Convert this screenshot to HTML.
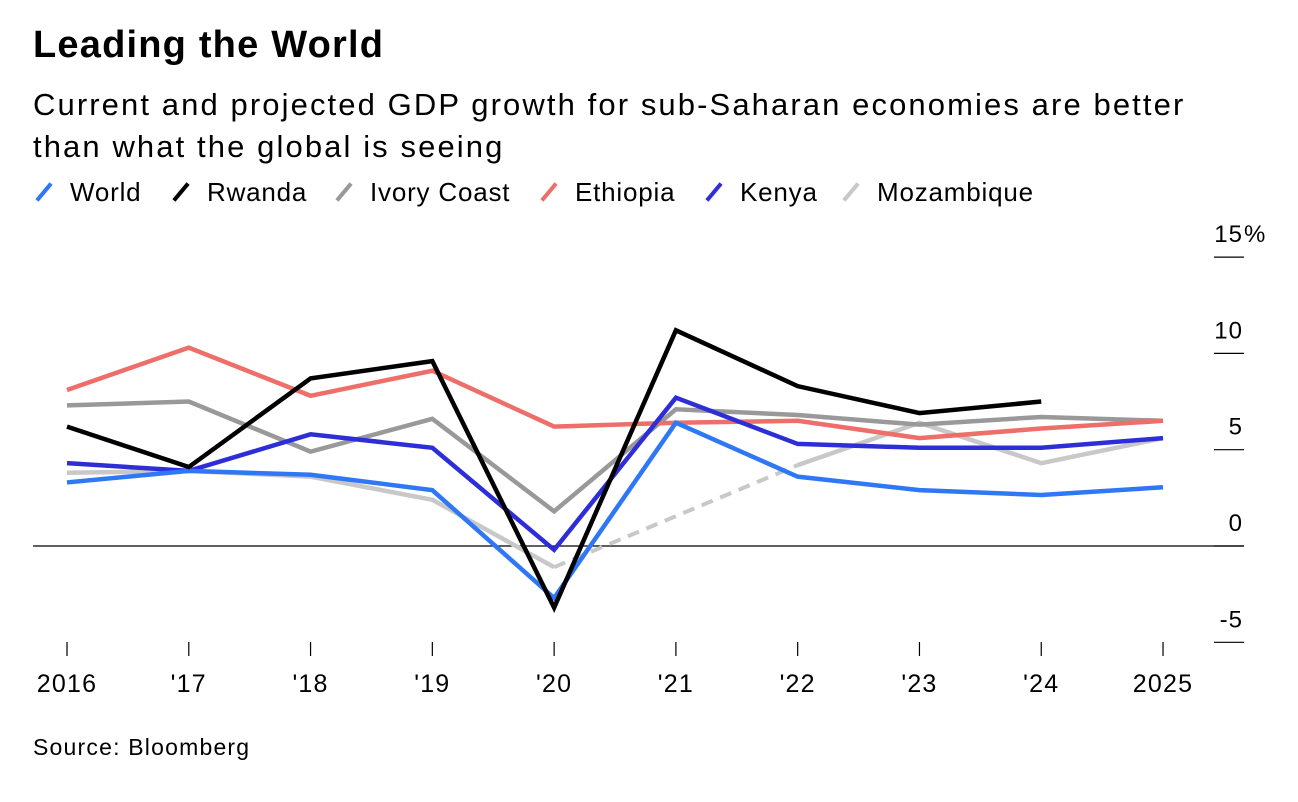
<!DOCTYPE html>
<html><head><meta charset="utf-8"><style>
body{margin:0;background:#fff;width:1298px;height:802px;overflow:hidden;font-family:"Liberation Sans",sans-serif;color:#000}
#title{position:absolute;left:33px;top:24px;font-size:38px;font-weight:bold;letter-spacing:1.2px}
#sub{position:absolute;left:33px;top:84px;font-size:31px;line-height:42px;width:1200px;letter-spacing:2.1px}
#legend{position:absolute;left:0;top:177px;font-size:26px;letter-spacing:0.8px;width:1298px;height:36px}
.le{position:absolute;display:flex;align-items:center;white-space:nowrap}
.sw{width:4px;height:22px;transform:rotate(40deg);position:absolute;top:4px}
.lt{position:absolute;top:0}
#src{position:absolute;left:33px;top:734px;font-size:23px;letter-spacing:1.2px}
svg{position:absolute;left:0;top:0}
</style></head><body>
<div id="title">Leading the World</div>
<div id="sub">Current and projected GDP growth for sub-Saharan economies are better<br>than what the global is seeing</div>
<div id="legend"></div>
<div id="src">Source: Bloomberg</div>
<svg id="chart" width="1298" height="802"></svg>
<script>
const years=["2016","'17","'18","'19","'20","'21","'22","'23","'24","2025"];
const yTicks=[15,10,5,0,-5];
const seriesNames=["World","Rwanda","Ivory Coast","Ethiopia","Kenya","Mozambique"];
const seriesColors=["#2f78f5","#000000","#999999","#ee6e6a","#2e2ed8","#c8c8c8"];
const world=[3.3,3.9,3.7,2.9,-2.7,6.4,3.6,2.9,2.65,3.05];
const rwanda=[6.2,4.1,8.7,9.6,-3.2,11.2,8.3,6.9,7.5,null];
const ivoryCoast=[7.3,7.5,4.9,6.6,1.8,7.1,6.8,6.3,6.7,6.5];
const ethiopia=[8.1,10.3,7.8,9.1,6.2,6.4,6.5,5.6,6.1,6.5];
const kenya=[4.3,3.9,5.8,5.1,-0.2,7.7,5.3,5.1,5.1,5.6];
const mozambique=[3.8,3.9,3.6,2.4,-1.1,null,4.2,6.4,4.3,5.6];
const data=[world,rwanda,ivoryCoast,ethiopia,kenya,mozambique];
const legendX=[33,170,333,538,703,840];
const NS="http://www.w3.org/2000/svg";
const svg=document.getElementById('chart');
const x=i=>67+i*121.78;
const y=v=>546-v*19.26;
function mk(t,a){const e=document.createElementNS(NS,t);for(const k in a)e.setAttribute(k,a[k]);svg.appendChild(e);return e;}
yTicks.forEach(v=>{
 const l=mk('line',{x1:1214,x2:1244,y1:y(v),y2:y(v),stroke:'#000','stroke-width':1.2});
 
 
 const t=mk('text',{x:1243,y:y(v)-15,'text-anchor':'end','font-size':24,'letter-spacing':1,'font-family':'Liberation Sans'});
 t.textContent=v;
 
 
 if(v===15){
  const p=mk('text',{x:1244,y:y(v)-15,'font-size':24,'font-family':'Liberation Sans'});
  p.textContent='%';
  
  
 }
});
const zl=mk('line',{x1:33,x2:1244,y1:y(0),y2:y(0),stroke:'#000','stroke-width':1.3});


years.forEach((yr,i)=>{
 const l=mk('line',{x1:x(i),x2:x(i),y1:642,y2:656,stroke:'#000','stroke-width':1.2});
 
 
 const t=mk('text',{x:x(i),y:692,'text-anchor':'middle','font-size':25,'letter-spacing':1.2,'font-family':'Liberation Sans'});
 t.textContent=yr;
 
 
});
function gaps(arr,col){
 for(let i=1;i<arr.length-1;i++){
  if(arr[i]===null&&arr[i-1]!==null&&arr[i+1]!==null){
   const d=mk('line',{x1:x(i-1),y1:y(arr[i-1]),x2:x(i+1),y2:y(arr[i+1]),stroke:col,'stroke-width':4,'stroke-dasharray':'12,8'});
   
   
  }
 }
}
const order=[5,2,3,4,0,1];
order.forEach(s=>{
 const arr=data[s];
 gaps(arr,seriesColors[s]);
 let segs=[],cur=[];
 arr.forEach((v,i)=>{if(v===null){if(cur.length)segs.push(cur);cur=[];}else cur.push(x(i)+','+y(v));});
 if(cur.length)segs.push(cur);
 segs.forEach(sg=>{
  const p=mk('polyline',{points:sg.join(' '),fill:'none',stroke:seriesColors[s],'stroke-width':4.5,'stroke-linejoin':'miter'});
  
  
 });
});
const lg=document.getElementById('legend');
seriesNames.forEach((n,i)=>{
 const d=document.createElement('div');d.className='le';
 d.style.left=legendX[i]+'px';
 
 
 d.innerHTML='<span class="sw" style="left:9px;background:'+seriesColors[i]+'"></span><span class="lt" style="left:37px">'+n+'</span>';
 lg.appendChild(d);
});
</script>
</body></html>
